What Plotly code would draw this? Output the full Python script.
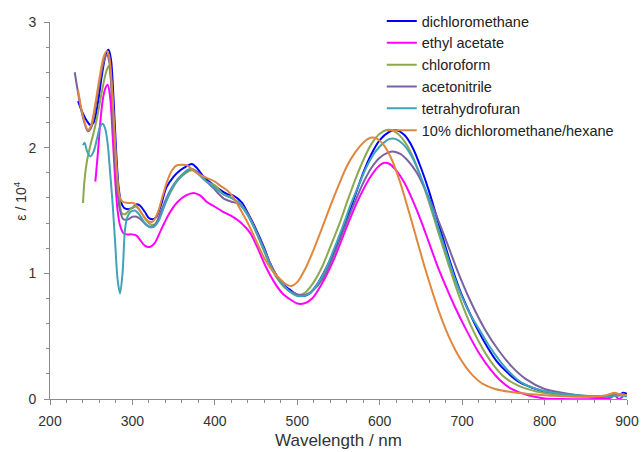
import plotly.graph_objects as go

# ---- data (wavelength in nm, epsilon / 10^4) ----
dcm_wl = [234, 240, 245, 249, 253, 258, 263, 268, 271, 274, 277, 280, 283, 286, 290, 295, 300, 305, 309,
          315, 320, 325, 329, 335, 341, 350, 358, 365, 372, 378, 385, 395, 405, 415, 422, 433, 440, 450,
          460, 467, 475, 483, 491, 500, 507, 515, 525, 535, 545, 555, 568, 580, 590, 600, 610, 619, 630,
          640, 650, 660, 673, 685, 697, 708, 719, 730, 742, 755, 768, 785, 805, 830, 855, 875, 885,
          890, 895, 900]
dcm_val = [2.37, 2.27, 2.21, 2.18, 2.20, 2.35, 2.58, 2.75, 2.78, 2.70, 2.40, 2.00, 1.70, 1.57, 1.52, 1.51,
           1.52, 1.55, 1.54, 1.49, 1.44, 1.43, 1.45, 1.55, 1.68, 1.77, 1.82, 1.85, 1.87, 1.84, 1.78, 1.72,
           1.67, 1.63, 1.62, 1.56, 1.48, 1.35, 1.20, 1.08, 0.98, 0.91, 0.87, 0.83, 0.82, 0.84, 0.92, 1.04,
           1.18, 1.34, 1.58, 1.80, 1.95, 2.06, 2.12, 2.14, 2.10, 2.00, 1.84, 1.65, 1.36, 1.10, 0.87,
           0.70, 0.55, 0.42, 0.30, 0.21, 0.14, 0.09, 0.05, 0.03, 0.02, 0.02, 0.04, 0.03, 0.05, 0.04]

ea_wl = [255, 258, 261, 264, 267, 270, 273, 276, 279, 282, 285, 289, 293, 299, 305, 310, 315, 321, 327,
         335, 345, 355, 365, 374, 382, 390, 400, 410, 422, 432, 443, 452, 462, 472, 482, 492, 500, 508,
         518, 530, 545, 560, 575, 590, 600, 606, 612, 620, 630, 640, 650, 660, 670, 680, 690, 705, 720,
         735, 746, 760, 780, 800, 820, 860, 880, 885, 890, 895]
ea_val = [1.73, 1.95, 2.20, 2.38, 2.47, 2.50, 2.40, 2.10, 1.75, 1.50, 1.38, 1.32, 1.31, 1.31, 1.30, 1.26,
          1.22, 1.21, 1.24, 1.35, 1.48, 1.57, 1.62, 1.64, 1.62, 1.57, 1.53, 1.49, 1.45, 1.40, 1.32, 1.20,
          1.05, 0.93, 0.84, 0.79, 0.76, 0.76, 0.80, 0.92, 1.12, 1.37, 1.60, 1.78, 1.86, 1.88, 1.87, 1.82,
          1.72, 1.58, 1.42, 1.24, 1.06, 0.90, 0.75, 0.55, 0.37, 0.23, 0.15, 0.08, 0.03, 0.005, 0.0, 0.0,
          0.01, 0.03, 0.0, 0.02]

cf_wl = [240, 242, 245, 249, 253, 258, 263, 268, 271, 274, 277, 280, 284, 287, 291, 296, 301, 305, 310,
         316, 322, 327, 333, 345, 355, 365, 372, 380, 390, 400, 410, 420, 430, 440, 450, 460, 470, 480,
         490, 497, 503, 510, 520, 530, 540, 552, 560, 570, 580, 590, 600, 608, 614, 622, 632, 642, 652,
         662, 671, 682, 692, 702, 713, 725, 738, 752, 770, 790, 820, 850, 880, 890, 900]
cf_val = [1.56, 1.75, 1.90, 2.02, 2.12, 2.27, 2.45, 2.60, 2.65, 2.55, 2.25, 1.90, 1.60, 1.48, 1.47, 1.50,
          1.53, 1.53, 1.49, 1.43, 1.39, 1.39, 1.45, 1.63, 1.74, 1.80, 1.82, 1.79, 1.73, 1.70, 1.63, 1.60,
          1.56, 1.47, 1.33, 1.17, 1.02, 0.92, 0.86, 0.84, 0.83, 0.85, 0.93, 1.05, 1.21, 1.41, 1.56, 1.74,
          1.90, 2.03, 2.11, 2.14, 2.14, 2.11, 2.03, 1.90, 1.72, 1.52, 1.33, 1.10, 0.90, 0.72, 0.55, 0.40,
          0.27, 0.17, 0.10, 0.06, 0.03, 0.02, 0.03, 0.04, 0.03]

acn_wl = [230, 235, 240, 246, 250, 255, 260, 265, 269, 272, 275, 278, 281, 285, 289, 295, 300, 305, 310,
          316, 322, 328, 335, 345, 355, 365, 372, 380, 390, 398, 405, 412, 420, 430, 440, 450, 460, 470,
          480, 490, 500, 510, 520, 530, 540, 550, 560, 570, 580, 590, 600, 610, 616, 625, 635, 645, 655,
          665, 680, 695, 710, 728, 745, 760, 777, 800, 830, 860, 880, 890, 900]
acn_val = [2.60, 2.40, 2.24, 2.13, 2.16, 2.32, 2.52, 2.68, 2.74, 2.68, 2.40, 2.00, 1.70, 1.50, 1.43, 1.43,
           1.45, 1.45, 1.43, 1.39, 1.37, 1.39, 1.50, 1.65, 1.75, 1.81, 1.83, 1.80, 1.73, 1.68, 1.63, 1.59,
           1.57, 1.55, 1.47, 1.34, 1.19, 1.04, 0.93, 0.86, 0.83, 0.83, 0.87, 0.95, 1.08, 1.24, 1.41, 1.57,
           1.72, 1.84, 1.92, 1.96, 1.97, 1.95, 1.89, 1.80, 1.67, 1.52, 1.27, 1.01, 0.78, 0.55, 0.38, 0.26,
           0.16, 0.08, 0.04, 0.02, 0.025, 0.03, 0.03]

thf_wl = [240, 242, 245, 249, 253, 257, 261, 264, 267, 270, 273, 276, 279, 282, 285, 288, 291, 294, 298,
          303, 308, 314, 320, 326, 332, 340, 350, 360, 366, 372, 380, 390, 400, 410, 420, 430, 440, 450,
          460, 470, 480, 490, 500, 507, 515, 525, 535, 545, 555, 565, 575, 585, 595, 605, 612, 619, 628,
          638, 648, 658, 668, 680, 690, 700, 710, 721, 732, 745, 758, 772, 790, 810, 840, 870, 880, 890, 900]
thf_val = [2.02, 2.04, 1.97, 1.93, 1.97, 2.07, 2.17, 2.19, 2.15, 2.03, 1.80, 1.55, 1.25, 0.95, 0.84, 1.00,
           1.35, 1.45, 1.49, 1.50, 1.47, 1.41, 1.37, 1.37, 1.42, 1.56, 1.70, 1.78, 1.82, 1.83, 1.79, 1.73,
           1.68, 1.63, 1.60, 1.55, 1.46, 1.33, 1.18, 1.03, 0.93, 0.86, 0.82, 0.82, 0.84, 0.92, 1.04, 1.20,
           1.37, 1.55, 1.71, 1.86, 1.97, 2.04, 2.07, 2.07, 2.03, 1.94, 1.80, 1.62, 1.42, 1.18, 0.98, 0.81,
           0.67, 0.55, 0.43, 0.31, 0.21, 0.13, 0.08, 0.05, 0.03, 0.02, 0.02, 0.03, 0.02]

mix_wl = [234, 240, 246, 250, 255, 260, 265, 269, 272, 275, 278, 281, 284, 288, 295, 301, 306, 312, 318,
          324, 330, 336, 342, 348, 354, 366, 372, 380, 390, 400, 406, 415, 422, 430, 440, 450, 460, 470,
          480, 487, 493, 500, 510, 520, 530, 543, 552, 560, 570, 580, 590, 597, 605, 615, 625, 635, 645,
          655, 665, 675, 685, 695, 705, 714, 725, 740, 760, 780, 800, 830, 860, 875, 885, 890, 900]
mix_val = [2.46, 2.25, 2.14, 2.18, 2.35, 2.55, 2.72, 2.77, 2.72, 2.50, 2.15, 1.80, 1.62, 1.57, 1.56, 1.56,
           1.53, 1.47, 1.42, 1.41, 1.47, 1.60, 1.73, 1.82, 1.86, 1.86, 1.83, 1.79, 1.76, 1.73, 1.70, 1.66,
           1.61, 1.52, 1.40, 1.26, 1.12, 1.02, 0.95, 0.91, 0.90, 0.93, 1.04, 1.19, 1.36, 1.585, 1.73, 1.85,
           1.96, 2.04, 2.08, 2.07, 2.02, 1.90, 1.72, 1.50, 1.27, 1.04, 0.83, 0.64, 0.48, 0.35, 0.25, 0.18,
           0.12, 0.08, 0.055, 0.04, 0.03, 0.02, 0.02, 0.03, 0.05, 0.04, 0.03]

series = [
    ("dichloromethane", dcm_wl, dcm_val, "#0000FF"),
    ("ethyl acetate", ea_wl, ea_val, "#FF00FF"),
    ("chloroform", cf_wl, cf_val, "#8DA84F"),
    ("acetonitrile", acn_wl, acn_val, "#7A62A0"),
    ("tetrahydrofuran", thf_wl, thf_val, "#3FA3BA"),
    ("10% dichloromethane/hexane", mix_wl, mix_val, "#E0873F"),
]

fig = go.Figure()
for name, wl, val, col in series:
    fig.add_trace(go.Scatter(x=wl, y=val, mode="lines", name=name,
                             line=dict(color=col, width=2, shape="spline", smoothing=0.8)))

axis_col = "#8C8C8C"
font = dict(family="Liberation Sans, Arial, sans-serif", size=14, color="#333333")

fig.update_layout(
    width=641, height=452,
    margin=dict(l=50, r=14, t=22, b=53, autoexpand=False),
    paper_bgcolor="white", plot_bgcolor="white",
    font=font,
    showlegend=True,
    legend=dict(x=0.575, y=1.045, xanchor="left", yanchor="top", bgcolor="rgba(0,0,0,0)",
                font=dict(size=14.5, color="#222222"), tracegroupgap=0, itemwidth=30),
    xaxis=dict(range=[200, 900], showgrid=False, zeroline=False, showline=True, linecolor=axis_col,
               linewidth=1, ticks="outside", tickcolor=axis_col, ticklen=5, dtick=100, tick0=200,
               minor=dict(dtick=20, ticks="outside", ticklen=3, tickcolor=axis_col),
               automargin=False, ticklabelstandoff=4,
               title=dict(text="Wavelength / nm", standoff=6)),
    yaxis=dict(range=[0, 3], showgrid=False, zeroline=False, showline=True, linecolor=axis_col,
               linewidth=1, ticks="outside", tickcolor=axis_col, ticklen=5, dtick=1, tick0=0,
               minor=dict(dtick=0.2, ticks="outside", ticklen=3, tickcolor=axis_col),
               automargin=False, ticklabelstandoff=5),
    annotations=[dict(text="ε / 10<sup>4</sup>", textangle=-90, xref="paper", yref="paper",
                      x=-0.051, y=0.525, xanchor="center", yanchor="middle", showarrow=False,
                      font=dict(size=14, color="#333333"))],
)

fig.write_html("out.html")
